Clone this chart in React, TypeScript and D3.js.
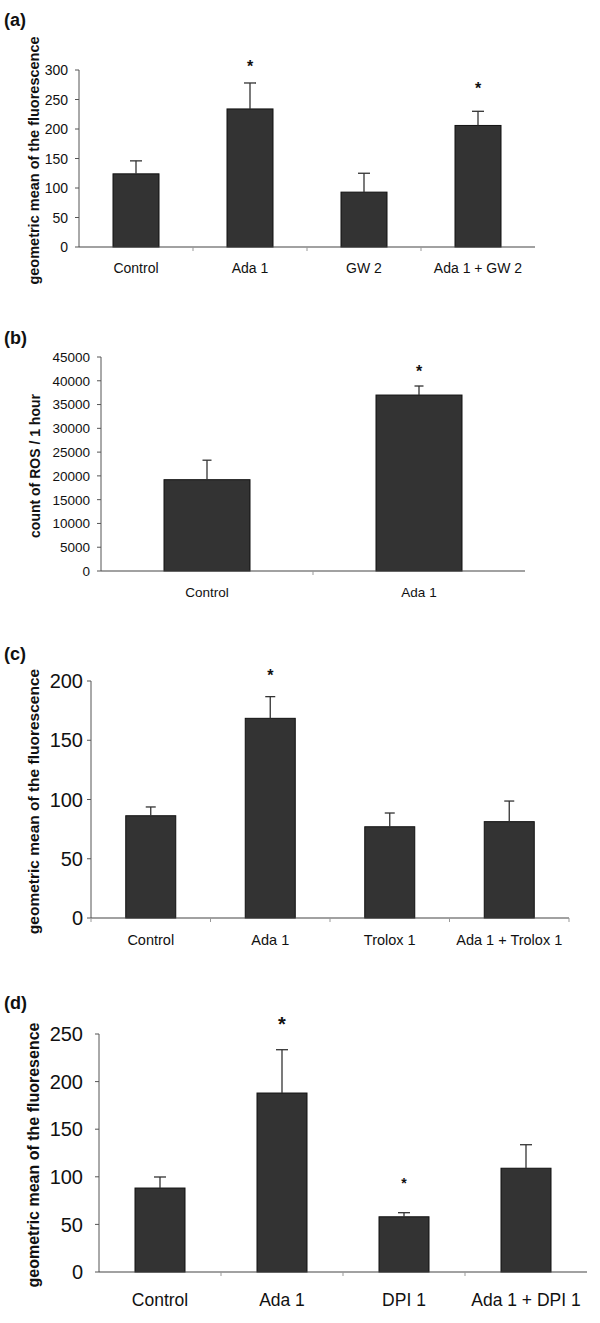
import React from "react";
import * as d3 from "d3";

// ---------- data ----------
const catsA = ["Control", "Ada 1", "GW 2", "Ada 1 + GW 2"];
const valsA = [124, 234, 93, 206];
const errsA = [22, 44, 32, 24];
const starsA = [null, 312, null, 275];
const ticksA = [0, 50, 100, 150, 200, 250, 300];

const catsB = ["Control", "Ada 1"];
const valsB = [19200, 37000];
const errsB = [4100, 1900];
const starsB = [null, 42600];
const ticksB = [0, 5000, 10000, 15000, 20000, 25000, 30000, 35000, 40000, 45000];

const catsC = ["Control", "Ada 1", "Trolox 1", "Ada 1 + Trolox 1"];
const valsC = [86.3, 168.5, 77, 81.3];
const errsC = [7.4, 18.3, 11.6, 17.4];
const starsC = [null, 207.6, null, null];
const ticksC = [0, 50, 100, 150, 200];

const catsD = ["Control", "Ada 1", "DPI 1", "Ada 1 + DPI 1"];
const valsD = [88.2, 188, 58, 109];
const errsD = [11.6, 45.5, 4.3, 24.7];
const starsD = [null, 264.7, 95.9, null];
const ticksD = [0, 50, 100, 150, 200, 250];

const FONT = "'Liberation Sans', Arial, Helvetica, sans-serif";

type PanelProps = {
  title: string;
  titleY: number;
  yLabel: string;
  yLabelX: number;
  yLabelSize: number;
  cats: string[];
  vals: number[];
  errs: number[];
  stars: (number | null)[];
  starSizes?: number[];
  ticks: number[];
  x0: number;
  x1: number;
  yZero: number;
  yTop: number;
  barW: number;
  capW: number;
  tickSize: number;
  tickGap: number;
  catSize: number;
  catY: number;
  xTickEnds: boolean;
};

function Panel(p: PanelProps) {
  const max = p.ticks[p.ticks.length - 1];
  const y = d3.scaleLinear().domain([0, max]).range([p.yZero, p.yTop]);
  const x = d3.scaleBand<string>().domain(p.cats).range([p.x0, p.x1]).padding(0);
  const bw = x.bandwidth();
  const boundaries = p.cats.map((c) => x(c)!).concat([p.x1]).slice(p.xTickEnds ? 0 : 1, p.xTickEnds ? undefined : -1);
  const labelCy = (p.yTop + p.yZero) / 2;
  return (
    <g>
      <text x={4} y={p.titleY} fontFamily={FONT} fontWeight="bold" fontSize={18} fill="#111">
        {p.title}
      </text>
      <text
        transform={`translate(${p.yLabelX},${labelCy + 2}) rotate(-90)`}
        textAnchor="middle"
        fontFamily={FONT}
        fontWeight="bold"
        fontSize={p.yLabelSize}
        fill="#111"
      >
        {p.yLabel}
      </text>
      {/* y axis */}
      <line x1={p.x0} x2={p.x0} y1={p.yTop} y2={p.yZero} stroke="#555" strokeWidth={1} />
      {p.ticks.map((t) => (
        <g key={t}>
          <line x1={p.x0 - 4} x2={p.x0} y1={y(t)} y2={y(t)} stroke="#555" strokeWidth={1} />
          <text
            x={p.x0 - p.tickGap}
            y={y(t)}
            dy="0.36em"
            textAnchor="end"
            fontFamily={FONT}
            fontSize={p.tickSize}
            fill="#111"
          >
            {t}
          </text>
        </g>
      ))}
      {/* bars */}
      {p.cats.map((c, i) => {
        const cx = x(c)! + bw / 2;
        const top = y(p.vals[i]);
        const et = y(p.vals[i] + p.errs[i]);
        return (
          <g key={c}>
            <rect
              x={cx - p.barW / 2}
              y={top}
              width={p.barW}
              height={p.yZero - top}
              fill="#333333"
              stroke="#111"
              strokeWidth={1}
            />
            <line x1={cx} x2={cx} y1={top} y2={et} stroke="#333" strokeWidth={1.3} />
            <line x1={cx - p.capW / 2} x2={cx + p.capW / 2} y1={et} y2={et} stroke="#333" strokeWidth={1.3} />
            {p.stars[i] !== null && (
              <text
                x={cx}
                y={y(p.stars[i] as number)}
                dy={`${0.55}em`}
                textAnchor="middle"
                fontFamily={FONT}
                fontWeight="bold"
                fontSize={p.starSizes ? p.starSizes[i] : 16}
                fill="#111"
              >
                *
              </text>
            )}
            <text
              x={cx}
              y={p.catY}
              textAnchor="middle"
              fontFamily={FONT}
              fontSize={p.catSize}
              fill="#111"
            >
              {c}
            </text>
          </g>
        );
      })}
      {/* x axis */}
      <line x1={p.x0} x2={p.x1} y1={p.yZero} y2={p.yZero} stroke="#444" strokeWidth={1.2} />
      {boundaries.map((b, i) => (
        <line key={i} x1={b} x2={b} y1={p.yZero} y2={p.yZero + 4} stroke="#999" strokeWidth={1} />
      ))}
    </g>
  );
}

export default function App() {
  return (
    <svg
      width={600}
      height={1323}
      style={{ position: "absolute", left: 0, top: 0, background: "#fff" }}
    >
      <rect x={0} y={0} width={600} height={1323} fill="#fff" />
      <Panel
        title="(a)"
        titleY={26}
        yLabel="geometric mean of the fluorescence"
        yLabelX={39}
        yLabelSize={14.5}
        cats={catsA}
        vals={valsA}
        errs={errsA}
        stars={starsA}
        ticks={ticksA}
        x0={79}
        x1={535}
        yZero={247}
        yTop={70}
        barW={46}
        capW={12}
        tickSize={14}
        tickGap={11}
        catSize={14}
        catY={273}
        xTickEnds={false}
      />
      <Panel
        title="(b)"
        titleY={344}
        yLabel="count of ROS / 1 hour"
        yLabelX={40}
        yLabelSize={14}
        cats={catsB}
        vals={valsB}
        errs={errsB}
        stars={starsB}
        ticks={ticksB}
        x0={101}
        x1={525}
        yZero={571}
        yTop={357}
        barW={86}
        capW={9}
        tickSize={13.5}
        tickGap={11}
        catSize={13.5}
        catY={597}
        xTickEnds={false}
      />
      <Panel
        title="(c)"
        titleY={660}
        yLabel="geometric mean of the fluorescence"
        yLabelX={39}
        yLabelSize={15.5}
        cats={catsC}
        vals={valsC}
        errs={errsC}
        stars={starsC}
        ticks={ticksC}
        x0={91}
        x1={569}
        yZero={918}
        yTop={681}
        barW={50}
        capW={10}
        tickSize={20}
        tickGap={8}
        catSize={14.5}
        catY={945}
        xTickEnds={true}
      />
      <Panel
        title="(d)"
        titleY={1009}
        yLabel="geometric mean of the fluoresence"
        yLabelX={39}
        yLabelSize={16}
        cats={catsD}
        vals={valsD}
        errs={errsD}
        stars={starsD}
        starSizes={[16, 20, 14, 16]}
        ticks={ticksD}
        x0={99}
        x1={587}
        yZero={1272}
        yTop={1034}
        barW={50}
        capW={12}
        tickSize={20}
        tickGap={16}
        catSize={17.5}
        catY={1306}
        xTickEnds={false}
      />
    </svg>
  );
}
